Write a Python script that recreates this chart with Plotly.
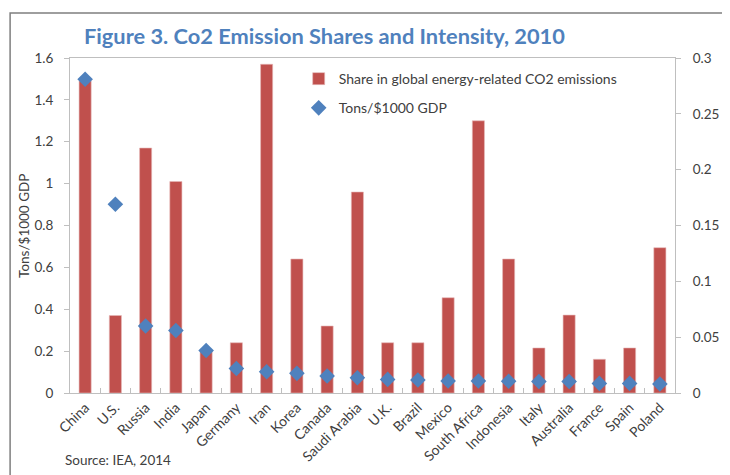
import plotly.graph_objects as go

countries = ["China", "U.S.", "Russia", "India", "Japan", "Germany", "Iran", "Korea",
             "Canada", "Saudi Arabia", "U.K.", "Brazil", "Mexico", "South Africa",
             "Indonesia", "Italy", "Australia", "France", "Spain", "Poland"]

# Bars (read on left axis, Tons/$1000 GDP)
bar_values = [1.49, 0.37, 1.17, 1.01, 0.20, 0.24, 1.57, 0.64, 0.32, 0.96,
              0.24, 0.24, 0.455, 1.30, 0.64, 0.215, 0.372, 0.161, 0.215, 0.694]

# Diamonds (read on right axis, share in global CO2 emissions)
diamond_values = [0.281, 0.169, 0.060, 0.056, 0.038, 0.022, 0.019, 0.0176, 0.0152, 0.0137,
                  0.0122, 0.0116, 0.0107, 0.0107, 0.0105, 0.0103, 0.0103, 0.0086, 0.0086, 0.0081]

left_ticks = [0, 0.2, 0.4, 0.6, 0.8, 1.0, 1.2, 1.4, 1.6]
left_tick_labels = ["0", "0.2", "0.4", "0.6", "0.8", "1", "1.2", "1.4", "1.6"]
right_ticks = [0, 0.05, 0.1, 0.15, 0.2, 0.25, 0.3]
right_tick_labels = ["0", "0.05", "0.1", "0.15", "0.2", "0.25", "0.3"]

FONT = "Lato"
TXT = "#404040"
GRID = "#BFBFBF"

fig = go.Figure()
fig.add_trace(go.Bar(
    x=countries, y=bar_values, name="Share in global energy-related CO2 emissions",
    marker=dict(color="#C0504D", line=dict(color="#E6B9B8", width=0.6)),
    width=0.4, yaxis="y", legendgroup="a",
))
fig.add_trace(go.Scatter(
    x=countries, y=diamond_values, name="Tons/$1000 GDP", mode="markers",
    marker=dict(symbol="diamond", color="#4F81BD", size=12),
    yaxis="y2", legendgroup="b",
))

# the page body adds an 8px offset; margins compensate so the plot area sits at x 70-675, y 58-393
fig.update_layout(
    width=730, height=475, autosize=False,
    margin=dict(l=62, r=63, t=50, b=90, pad=0),
    paper_bgcolor="white", plot_bgcolor="white",
    font=dict(family=FONT, size=13, color=TXT),
    showlegend=True,
    legend=dict(x=0.378, y=0.985, xanchor="left", yanchor="top",
                bgcolor="rgba(0,0,0,0)", font=dict(size=14, color=TXT),
                tracegroupgap=8, traceorder="grouped"),
    xaxis=dict(
        automargin=False, range=[-0.5, len(countries) - 0.5],
        showline=True, linecolor=GRID, linewidth=1, mirror=True,
        ticks="inside", tickson="boundaries", ticklen=5, tickcolor=GRID,
        tickangle=-45, tickfont=dict(size=14, color=TXT), showgrid=False,
    ),
    yaxis=dict(
        automargin=False,
        range=[0, 1.6], tickvals=left_ticks, ticktext=left_tick_labels,
        showline=True, linecolor=GRID, linewidth=1, showgrid=False, zeroline=False,
        ticks="outside", ticklen=5, tickcolor=GRID, tickfont=dict(size=13.5, color=TXT),
        ticklabelstandoff=8,
    ),
    yaxis2=dict(
        automargin=False,
        range=[0, 0.3], tickvals=right_ticks, ticktext=right_tick_labels,
        overlaying="y", side="right",
        showline=True, linecolor=GRID, linewidth=1, showgrid=False, zeroline=False,
        ticks="outside", ticklen=5, tickcolor=GRID, tickfont=dict(size=13.5, color=TXT),
        ticklabelstandoff=9,
    ),
    bargap=0.6,
)

# outer chart frame (cropped by the image edge, as in the reference)
fig.add_shape(type="rect", xref="paper", yref="paper",
              x0=-0.099, x1=1.2, y0=-0.5, y1=1.1346,
              line=dict(color="#7F7F7F", width=1.5), fillcolor="rgba(0,0,0,0)", layer="below")

fig.add_annotation(text="<b>Figure 3. Co2 Emission Shares and Intensity, 2010</b>",
                   xref="paper", yref="paper", x=0.0198, y=1.067,
                   xanchor="left", yanchor="middle", showarrow=False,
                   font=dict(family=FONT, size=21.8, color="#4F81BD"))

fig.add_annotation(text="Tons/$1000 GDP",
                   xref="paper", yref="paper", x=-0.077, y=0.5,
                   xanchor="center", yanchor="middle", textangle=-90, showarrow=False,
                   font=dict(family=FONT, size=13.5, color=TXT))

fig.add_annotation(text="Share in global energy-related CO<sub>2</sub> emissions",
                   xref="paper", yref="paper", x=1.089, y=0.47,
                   xanchor="center", yanchor="middle", textangle=-90, showarrow=False,
                   font=dict(family=FONT, size=13.5, color=TXT))

fig.add_annotation(text="Source: IEA, 2014",
                   xref="paper", yref="paper", x=-0.012, y=-0.2,
                   xanchor="left", yanchor="middle", showarrow=False,
                   font=dict(family=FONT, size=13.5, color=TXT))

fig.write_html("out.html")
